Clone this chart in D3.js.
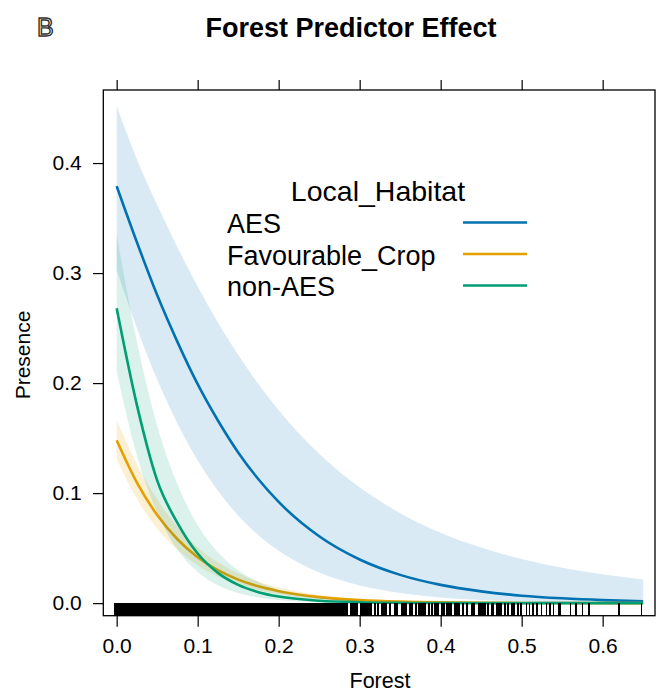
<!DOCTYPE html>
<html>
<head>
<meta charset="utf-8">
<script src="https://cdn.jsdelivr.net/npm/d3@7"></script>
<style>
  body { margin: 0; background: #fff; }
  text { font-family: "Liberation Sans", Arial, sans-serif; }
</style>
</head>
<body>
<div id="chart"></div>
<script>
// data
var forestX = [0, 0.025, 0.05, 0.075, 0.1, 0.125, 0.15, 0.175, 0.2, 0.25, 0.3, 0.35, 0.4, 0.45, 0.5, 0.55, 0.6, 0.65];

var aesFit   = [0.379, 0.328, 0.280, 0.2375, 0.199, 0.166, 0.137, 0.1126, 0.092, 0.0608, 0.0397, 0.0257, 0.0166, 0.0107, 0.0068, 0.0044, 0.0028, 0.0018];
var aesLower = [0.3028, 0.2499, 0.2033, 0.1634, 0.1298, 0.1021, 0.0797, 0.0618, 0.0476, 0.0279, 0.0161, 0.0092, 0.0052, 0.0029, 0.0016, 0.0009, 0.0005, 0.0003];
var aesUpper = [0.452, 0.4033, 0.3621, 0.3235, 0.2878, 0.2551, 0.2257, 0.1991, 0.1754, 0.1358, 0.1053, 0.0818, 0.0640, 0.0505, 0.0401, 0.0322, 0.0262, 0.0215];

var cropFit   = [0.148, 0.1095, 0.0801, 0.0581, 0.0418, 0.0300, 0.0214, 0.0153, 0.0109, 0.0055, 0.0028, 0.0014, 0.0007, 0.00035, 0.00018, 0.00009, 0.00004, 0.00002];
var cropLower = [0.1311, 0.0948, 0.0678, 0.0485, 0.0345, 0.0242, 0.0169, 0.0118, 0.0082, 0.0040, 0.0019, 0.0009, 0.0004, 0.0002, 0.0001, 0.00004, 0.00002, 0.00001];
var cropUpper = [0.1665, 0.1261, 0.0944, 0.0694, 0.0506, 0.0371, 0.0271, 0.0197, 0.0143, 0.0075, 0.0040, 0.0021, 0.0011, 0.0006, 0.0003, 0.00015, 0.00008, 0.00004];

var nonFit   = [0.268, 0.180, 0.1116, 0.0730, 0.0451, 0.0275, 0.0166, 0.0100, 0.0060, 0.0022, 0.0008, 0.0003, 0.0001, 0.00004, 0.00001, 0, 0, 0];
var nonLower = [0.210, 0.134, 0.0825, 0.0487, 0.0284, 0.0162, 0.0092, 0.0052, 0.0029, 0.0009, 0.0003, 0.0001, 0.00003, 0.00001, 0, 0, 0, 0];
var nonUpper = [0.335, 0.2375, 0.1612, 0.108, 0.0709, 0.0463, 0.0299, 0.0193, 0.0123, 0.0051, 0.0021, 0.0008, 0.0003, 0.0001, 0.00005, 0.00002, 0.00001, 0];

var habitats = ["AES", "Favourable_Crop", "non-AES"];
var xTicks = [0, 0.1, 0.2, 0.3, 0.4, 0.5, 0.6];
var yTicks = [0, 0.1, 0.2, 0.3, 0.4];

// rug of observed forest values (solid run, then thinning out)
var rugDense = [0, .003, .006, .009, .012, .015, .018, .021, .024, .027, .03, .033, .036, .039, .042, .045, .048, .051, .054, .057,
  .06, .063, .066, .069, .072, .075, .078, .081, .084, .087, .09, .093, .096, .099, .102, .105, .108, .111, .114, .117,
  .12, .123, .126, .129, .132, .135, .138, .141, .144, .147, .15, .153, .156, .159, .162, .165, .168, .171, .174, .177,
  .18, .183, .186, .189, .192, .195, .198, .201, .204, .207, .21, .213, .216, .219, .222, .225, .228, .231, .234, .237,
  .24, .243, .246, .249, .252, .255, .258, .261, .264, .267, .27, .273, .276, .279, .2805];
var rugMid = [0.284, 0.289, 0.2915, 0.294, 0.297, 0.302, 0.3045, 0.307, 0.3095, 0.312, 0.3145, 0.319, 0.323, 0.328, 0.3305,
  0.333, 0.338, 0.344, 0.3465, 0.352, 0.3545, 0.357, 0.3625, 0.364, 0.369, 0.3735, 0.376, 0.3785, 0.381, 0.385, 0.389,
  0.393, 0.3955, 0.397, 0.402, 0.4035, 0.408, 0.4105, 0.413, 0.418, 0.4205, 0.423, 0.428, 0.433, 0.4385, 0.441, 0.447,
  0.4495, 0.452, 0.4545, 0.459, 0.4635, 0.465, 0.4695, 0.472, 0.4745, 0.48, 0.483, 0.488, 0.4905, 0.496, 0.499];
var rugSparse = [0.506, 0.510, 0.514, 0.519, 0.5247, 0.531, 0.535, 0.539, 0.546, 0.548, 0.560, 0.567, 0.575, 0.583, 0.620, 0.648];

var colors = ["#0072B2", "#E69F00", "#009E73"];
var bandColors = ["rgba(0,114,178,0.15)", "rgba(230,159,0,0.17)", "rgba(0,158,115,0.14)"];

var svgWidth = 656;
var svgHeight = 693;

// panel frame
var frame = { left: 103.3, right: 655, top: 90, bottom: 615.7 };

var svg = d3.select("#chart")
  .append("svg")
  .attr("width", svgWidth)
  .attr("height", svgHeight);

var x = d3.scaleLinear()
  .domain([-0.0165, 0.6646])
  .range([frame.left, frame.right]);

var y = d3.scaleLinear()
  .domain([-0.0114, 0.4664])
  .range([frame.bottom, frame.top]);

svg.append("clipPath")
  .attr("id", "panel")
  .append("rect")
  .attr("x", frame.left)
  .attr("y", frame.top)
  .attr("width", frame.right - frame.left)
  .attr("height", frame.bottom - frame.top);

var plot = svg.append("g").attr("clip-path", "url(#panel)");

var groups = [
  { fit: aesFit, lower: aesLower, upper: aesUpper },
  { fit: cropFit, lower: cropLower, upper: cropUpper },
  { fit: nonFit, lower: nonLower, upper: nonUpper }
];

var area = d3.area()
  .x(d => x(d.x))
  .y0(d => y(d.lo))
  .y1(d => y(d.hi))
  .curve(d3.curveMonotoneX);

var line = d3.line()
  .x(d => x(d.x))
  .y(d => y(d.v))
  .curve(d3.curveMonotoneX);

// band then line, group by group
groups.forEach(function (g, i) {
  var pts = forestX.map(function (fx, j) {
    return { x: fx, v: g.fit[j], lo: g.lower[j], hi: g.upper[j] };
  });
  plot.append("path")
    .datum(pts)
    .attr("d", area)
    .attr("fill", bandColors[i]);
  plot.append("path")
    .datum(pts)
    .attr("d", line)
    .attr("fill", "none")
    .attr("stroke", colors[i])
    .attr("stroke-width", 2.6);
});

// rug
function drawRug(values, width) {
  plot.append("g")
    .attr("shape-rendering", "crispEdges")
    .selectAll("line")
    .data(values)
    .enter()
    .append("line")
    .attr("x1", d => x(d))
    .attr("x2", d => x(d))
    .attr("y1", frame.bottom)
    .attr("y2", frame.bottom - 12.5)
    .attr("stroke", "#000")
    .attr("stroke-width", width);
}
drawRug(rugDense, 5);
drawRug(rugMid, 2);
drawRug(rugSparse, 1.4);

// axes
var bottomAxis = d3.axisBottom(x)
  .tickValues(xTicks)
  .tickSize(11)
  .tickPadding(11.5)
  .tickFormat(d3.format(".1f"));

var topAxis = d3.axisTop(x)
  .tickValues(xTicks)
  .tickSize(10)
  .tickFormat("");

var leftAxis = d3.axisLeft(y)
  .tickValues(yTicks)
  .tickSize(10.3)
  .tickPadding(11.3)
  .tickFormat(d3.format(".1f"));

svg.append("g")
  .attr("transform", `translate(0, ${frame.bottom})`)
  .call(bottomAxis);

svg.append("g")
  .attr("transform", `translate(0, ${frame.top})`)
  .call(topAxis);

svg.append("g")
  .attr("transform", `translate(${frame.left}, 0)`)
  .call(leftAxis);

svg.selectAll(".domain").remove();
svg.selectAll(".tick line").attr("stroke", "#000").attr("stroke-width", 1.2);
svg.selectAll(".tick text")
  .style("font-family", "Liberation Sans, Arial, sans-serif")
  .style("font-size", "21px")
  .attr("fill", "#000");

// frame
svg.append("rect")
  .attr("x", frame.left)
  .attr("y", frame.top)
  .attr("width", frame.right - frame.left)
  .attr("height", frame.bottom - frame.top)
  .attr("fill", "none")
  .attr("stroke", "#000")
  .attr("stroke-width", 1.3);

// title and panel letter
svg.append("text")
  .attr("x", 351)
  .attr("y", 37)
  .attr("text-anchor", "middle")
  .style("font-size", "27px")
  .style("font-weight", "bold")
  .text("Forest Predictor Effect");

svg.append("text")
  .attr("x", 37)
  .attr("y", 36)
  .style("font-size", "25px")
  .attr("fill", "#fff")
  .attr("stroke", "#333")
  .attr("stroke-width", 1.4)
  .text("B");

// axis labels
svg.append("text")
  .attr("x", 380)
  .attr("y", 688)
  .attr("text-anchor", "middle")
  .style("font-size", "21.5px")
  .text("Forest");

svg.append("text")
  .attr("transform", "rotate(-90)")
  .attr("x", -355)
  .attr("y", 30)
  .attr("text-anchor", "middle")
  .style("font-size", "21px")
  .text("Presence");

// legend
svg.append("text")
  .attr("x", 378)
  .attr("y", 201)
  .attr("text-anchor", "middle")
  .style("font-size", "28.5px")
  .text("Local_Habitat");

var legend = svg.selectAll(".legend")
  .data(habitats)
  .enter()
  .append("g")
  .attr("transform", (d, i) => `translate(0, ${i * 31.5})`);

legend.append("text")
  .attr("x", 227)
  .attr("y", 233)
  .style("font-size", "27px")
  .text(d => d);

legend.append("line")
  .attr("x1", 463)
  .attr("x2", 527)
  .attr("y1", 222.5)
  .attr("y2", 222.5)
  .attr("stroke", (d, i) => colors[i])
  .attr("stroke-width", 2.6);
</script>
</body>
</html>
